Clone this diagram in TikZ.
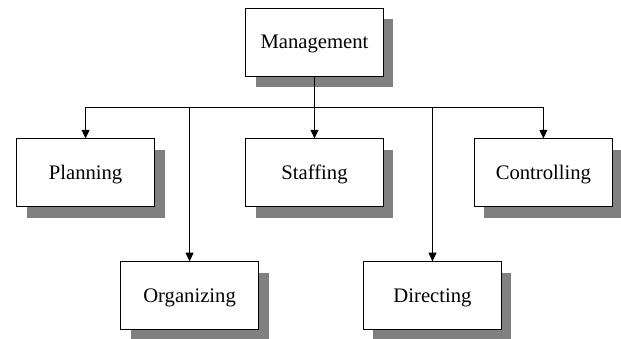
\documentclass[tikz,border=0pt]{standalone}
\usepackage{fontspec}
\setmainfont{Liberation Serif}
\usetikzlibrary{positioning, shadows, arrows.meta}

\begin{document}
\begin{tikzpicture}[
funcnode/.style={rectangle, draw=black, line width=0.7pt, fill=white, minimum width=103.5pt, minimum height=51pt, text depth=1pt, font=\fontsize{15.5}{18}\selectfont, drop shadow={shadow xshift=7.5pt, shadow yshift=-8pt, fill=black!50, opacity=1}},
link/.style={line width=0.6pt},
node distance=46.5pt and 67.5pt
]

\useasboundingbox (-235.9pt,31.5pt) rectangle (229.9pt,-222.75pt);

%Nodes
\node[funcnode] (mgmt) {Management};
\node[funcnode] (staff) [below=of mgmt] {Staffing};
\node[funcnode] (plan) [left=of staff] {Planning};
\node[funcnode] (ctrl) [right=of staff] {Controlling};
\node[funcnode] (org) [below=40.5pt of plan, xshift=78pt] {Organizing};
\node[funcnode] (dir) [below=40.5pt of staff, xshift=88.5pt] {Directing};

%Bus
\coordinate (bus) at ([yshift=-23.25pt]mgmt.south);
\draw[link] (mgmt.south) -- (bus);
\draw[link] (plan.north |- bus) -- (ctrl.north |- bus);

\foreach \n in {plan, staff, ctrl, org, dir}
       \draw[link, -{Triangle[length=6.5pt, width=6pt]}] (\n.north |- bus) -- (\n.north);
\end{tikzpicture}
\end{document}
